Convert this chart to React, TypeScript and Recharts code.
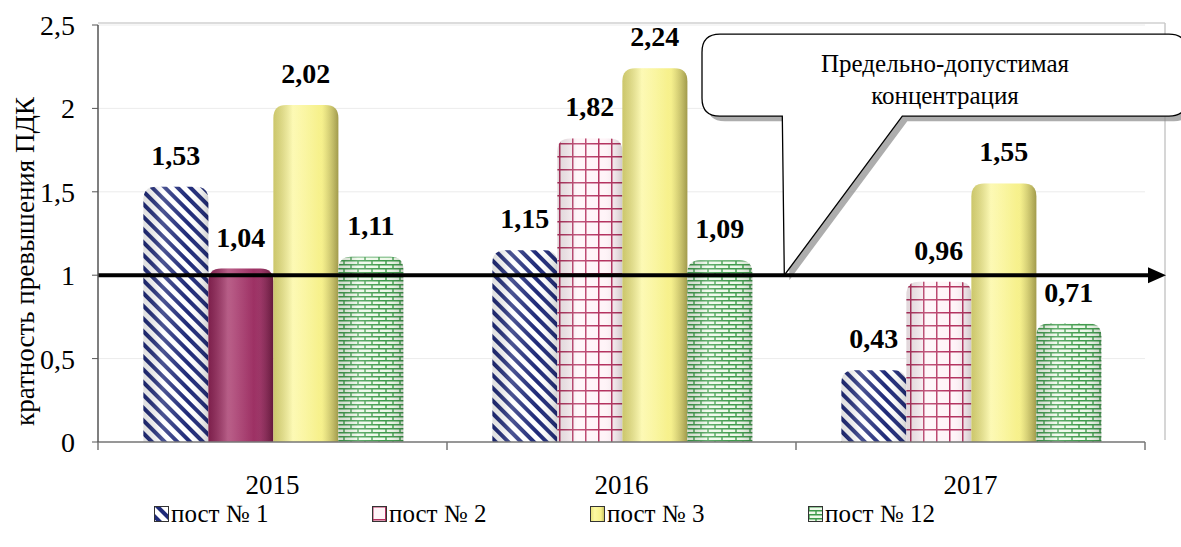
import React from 'react';
import { BarChart, Bar, XAxis, YAxis, CartesianGrid, ReferenceLine, ReferenceArea, LabelList, Legend } from 'recharts';

const years = ['2015', '2016', '2017'];
const post1 = [1.53, 1.15, 0.43];
const post2 = [1.04, 1.82, 0.96];
const post3 = [2.02, 2.24, 1.55];
const post12 = [1.11, 1.09, 0.71];
const yTicks = [0, 0.5, 1, 1.5, 2, 2.5];
const seriesNames = ['пост № 1', 'пост № 2', 'пост № 3', 'пост № 12'];
const yAxisTitle = 'кратность превышения ПДК';
const pdkLevel = 1;
const calloutLines = ['Предельно-допустимая', 'концентрация'];

const data = years.map((y, i) => ({ year: y, p1: post1[i], p2: post2[i], p3: post3[i], p12: post12[i] }));

const FONT = "'Liberation Serif', 'Times New Roman', serif";
const fmt = (v: any) => String(v).replace('.', ',');

const seriesKeys = ['p1', 'p2', 'p3', 'p12'];
const seriesFills = ['url(#stripes)', 'url(#gridp)', 'url(#yellow)', 'url(#brick)'];

const CylBar = (props: any) => {
  const { x, y, width, height, index, dataKey } = props;
  if (!height || height <= 0) return null;
  const r = Math.min(13, width / 2, height);
  const d = `M${x},${y + height} V${y + r} Q${x},${y} ${x + r},${y} H${x + width - r} Q${x + width},${y} ${x + width},${y + r} V${y + height} Z`;
  let fill = seriesFills[seriesKeys.indexOf(dataKey)];
  if (dataKey === 'p2' && index === 0) fill = 'url(#maroon)';
  return (
    <g>
      <path d={d} fill={fill} />
      <path d={d} fill="url(#shade)" />
    </g>
  );
};

const ThresholdShape = (props: any) => {
  const { x1, x2, y1 } = props;
  const tipX = x1 + (x2 - x1) * 0.6555;
  const bodyTop = y1 - 241;
  const bodyBot = y1 - 159;
  const left = 702;
  const right = 1187;
  const rr = 18;
  const path = `M${left + rr},${bodyTop} H${right - rr} Q${right},${bodyTop} ${right},${bodyTop + rr} V${bodyBot - rr} Q${right},${bodyBot} ${right - rr},${bodyBot} H${tipX + 118} L${tipX},${y1} L${tipX - 2},${bodyBot} H${left + rr} Q${left},${bodyBot} ${left},${bodyBot - rr} V${bodyTop + rr} Q${left},${bodyTop} ${left + rr},${bodyTop} Z`;
  const cx = 945;
  return (
    <g>
      <path d={path} fill="#8a8a8a" opacity={0.7} transform="translate(5,5)" />
      <path d={path} fill="#ffffff" stroke="#000" strokeWidth={1.3} />
      <text x={cx} y={bodyTop + 38} textAnchor="middle" style={{ fontFamily: FONT }} fontSize={25} fill="#000">{calloutLines[0]}</text>
      <text x={cx} y={bodyTop + 70} textAnchor="middle" style={{ fontFamily: FONT }} fontSize={25} fill="#000">{calloutLines[1]}</text>
      <line x1={x1} y1={y1} x2={x2 + 5} y2={y1} stroke="#000" strokeWidth={4} />
      <polygon points={`${x2 + 3},${y1 - 8} ${x2 + 21},${y1} ${x2 + 3},${y1 + 8}`} fill="#000" />
    </g>
  );
};

const FrameShape = (props: any) => {
  const { x, y, width, height } = props;
  const n = years.length;
  return (
    <g>
      <line x1={x} y1={y - 2} x2={x + width + 20} y2={y - 2} stroke="#d0d0d0" strokeWidth={1.5} />
      <line x1={x + width + 20} y1={y - 2} x2={x + width + 20} y2={y + height - 2} stroke="#c8c8c8" strokeWidth={1.5} />
      {Array.from({ length: n + 1 }).map((_, i) => (
        <line key={i} x1={x + (width * i) / n} y1={y + height} x2={x + (width * i) / n} y2={y + height + 8} stroke="#555" strokeWidth={1.2} />
      ))}
    </g>
  );
};

const YTitle = (props: any) => {
  const vb = props.viewBox || { x: 0, y: 25, width: 98, height: 417 };
  const cx = 25;
  const cy = vb.y + vb.height / 2 + 28;
  return (
    <text x={cx} y={cy} transform={`rotate(-90, ${cx}, ${cy})`} textAnchor="middle" dominantBaseline="central" style={{ fontFamily: FONT }} fontSize={27} fill="#000">
      {yAxisTitle}
    </text>
  );
};

const LegendContent = () => (
  <div style={{ height: 55, display: 'flex', justifyContent: 'flex-start', alignItems: 'flex-start', paddingTop: 8, paddingLeft: 154, boxSizing: 'border-box', fontFamily: FONT, fontSize: 25, color: '#000' }}>
    {seriesNames.map((n, i) => (
      <div key={n} style={{ width: 218, flex: '0 0 218px', display: 'flex', alignItems: 'center' }}>
        <svg width={15} height={16} style={{ marginRight: 2 }}>
          <rect x={0.5} y={0.5} width={14} height={15} fill={seriesFills[i]} stroke="#333" strokeWidth={1} />
        </svg>
        <span>{n}</span>
      </div>
    ))}
  </div>
);

export default function App() {
  return (
    <div style={{ position: 'absolute', left: 0, top: 0, width: 1181, height: 547, background: '#fff', fontFamily: FONT }}>
      <BarChart width={1181} height={547} data={data} margin={{ top: 25, right: 36, left: 0, bottom: 0 }} barGap={0} barCategoryGap="13%">
        <defs>
          <pattern id="stripes" patternUnits="userSpaceOnUse" width={9} height={9} patternTransform="rotate(-45)">
            <rect width={9} height={9} fill="#ffffff" />
            <rect x={0} y={0} width={4} height={9} fill="#1f2a78" />
          </pattern>
          <pattern id="gridp" patternUnits="userSpaceOnUse" width={13} height={13}>
            <rect width={13} height={13} fill="#fff4f8" />
            <path d="M0,0.75 H13 M0.75,0 V13" stroke="#b3305e" strokeWidth={1.5} />
          </pattern>
          <pattern id="brick" patternUnits="userSpaceOnUse" width={14} height={8}>
            <rect width={14} height={8} fill="#eef9ea" />
            <path d="M0,0.7 H14 M0,4.7 H14 M1,0 V4 M8,4 V8" stroke="#3d9a4a" strokeWidth={1.4} />
          </pattern>
          <linearGradient id="yellow" x1="0" y1="0" x2="1" y2="0">
            <stop offset="0" stopColor="#e8e27a" />
            <stop offset="0.3" stopColor="#fcf8a2" />
            <stop offset="0.75" stopColor="#f6f08a" />
            <stop offset="1" stopColor="#c4bc5c" />
          </linearGradient>
          <linearGradient id="maroon" x1="0" y1="0" x2="1" y2="0">
            <stop offset="0" stopColor="#8e2456" />
            <stop offset="0.35" stopColor="#a8386c" />
            <stop offset="0.8" stopColor="#9a2f62" />
            <stop offset="1" stopColor="#7a1d48" />
          </linearGradient>
          <linearGradient id="shade" x1="0" y1="0" x2="1" y2="0">
            <stop offset="0" stopColor="#000" stopOpacity={0.12} />
            <stop offset="0.3" stopColor="#fff" stopOpacity={0.2} />
            <stop offset="0.7" stopColor="#fff" stopOpacity={0} />
            <stop offset="1" stopColor="#000" stopOpacity={0.18} />
          </linearGradient>
        </defs>
        <CartesianGrid vertical={false} stroke="#ececec" />
        <ReferenceArea y1={0} y2={2.5} fill="none" shape={FrameShape} />
        <XAxis dataKey="year" tickLine={false} tickSize={0} tickMargin={33} height={50} axisLine={{ stroke: '#777', strokeWidth: 1.5 }} tick={{ fontFamily: FONT, fontSize: 27, fill: '#000' }} />
        <YAxis domain={[0, 2.5]} ticks={yTicks} width={98} tickFormatter={fmt} tickSize={6} tickMargin={17} axisLine={{ stroke: '#555', strokeWidth: 1.5 }} tickLine={{ stroke: '#555' }} tick={{ fontFamily: FONT, fontSize: 28, fill: '#000' }} label={{ content: (p: any) => <YTitle {...p} /> }} />
        <Legend verticalAlign="bottom" content={LegendContent} />
        {seriesKeys.map((k, i) => (
          <Bar key={k} dataKey={k} name={seriesNames[i]} fill={seriesFills[i]} shape={CylBar} isAnimationActive={false}>
            <LabelList dataKey={k} position="top" offset={22} formatter={fmt} style={{ fontFamily: FONT, fontSize: 28, fontWeight: 'bold', fill: '#000' }} />
          </Bar>
        ))}
        <ReferenceLine y={pdkLevel} shape={ThresholdShape} ifOverflow="visible" />
      </BarChart>
    </div>
  );
}
